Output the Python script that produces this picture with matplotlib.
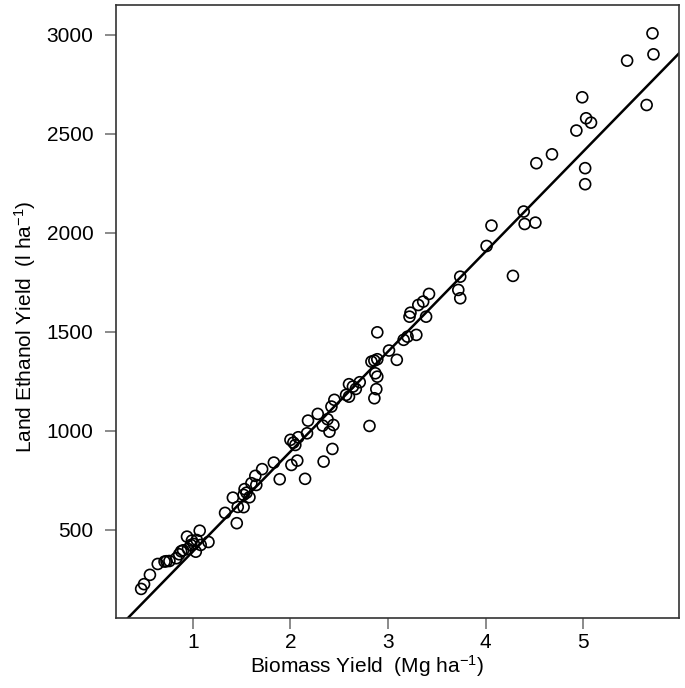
import matplotlib
matplotlib.use("Agg")
import matplotlib.pyplot as plt

plt.rcParams['font.family'] = ['Liberation Sans', 'DejaVu Sans']
plt.rcParams['mathtext.fontset'] = 'custom'
plt.rcParams['mathtext.rm'] = 'Liberation Sans'
plt.rcParams['mathtext.it'] = 'Liberation Sans:italic'

biomass = [0.47, 0.50, 0.56, 0.64, 0.71, 0.73, 0.76, 0.83, 0.86, 0.88, 0.90, 0.94,
           0.95, 0.98, 1.01, 1.03, 0.99, 1.04, 1.07, 1.16, 1.08,
           1.33, 1.41, 1.45, 1.46, 1.52, 1.53, 1.52, 1.55, 1.58, 1.60, 1.64, 1.65,
           1.71, 1.83, 1.89, 2.01, 2.07, 2.00, 2.03, 2.05, 2.08, 2.17, 2.15, 2.18,
           2.28, 2.33, 2.34, 2.43, 2.38, 2.40, 2.44, 2.42, 2.45, 2.57, 2.60, 2.60,
           2.64, 2.67, 2.71, 2.81, 2.83, 2.86, 2.89, 2.87, 2.89, 2.88, 2.86, 3.01,
           3.09, 2.89, 3.16, 3.20, 3.29, 3.22, 3.23, 3.31, 3.36, 3.42, 3.39, 3.72,
           3.74, 3.74, 4.28, 4.01, 4.06, 4.39, 4.40, 4.51, 4.52, 4.68, 4.93, 4.99,
           5.03, 5.08, 5.02, 5.02, 5.45, 5.65, 5.71, 5.72]
ethanol = [202, 226, 273, 328, 340, 342, 343, 357, 377, 392, 397, 466,
           404, 424, 429, 390, 446, 449, 496, 439, 424,
           586, 663, 534, 616, 615, 706, 677, 688, 665, 736, 773, 727,
           807, 840, 756, 828, 850, 955, 941, 929, 968, 988, 758, 1052,
           1086, 1027, 845, 909, 1059, 996, 1030, 1123, 1157, 1182, 1173, 1236,
           1224, 1212, 1246, 1025, 1350, 1355, 1362, 1291, 1274, 1211, 1165, 1406,
           1359, 1498, 1460, 1476, 1485, 1577, 1597, 1636, 1653, 1692, 1577, 1712,
           1670, 1779, 1783, 1934, 2037, 2108, 2045, 2052, 2352, 2397, 2517, 2685,
           2579, 2557, 2327, 2246, 2870, 2646, 3008, 2902]

fit_intercept = -114.0
fit_slope = 505.0

x_ticks = [1, 2, 3, 4, 5]
y_ticks = [500, 1000, 1500, 2000, 2500, 3000]

fig = plt.figure(figsize=(6.85, 6.88), dpi=100)
ax = fig.add_axes([0.169, 0.102, 0.822, 0.891])

ax.scatter(biomass, ethanol, s=62, facecolors='none', edgecolors='black',
           linewidths=1.2, zorder=3)
ax.axline((0, fit_intercept), slope=fit_slope, color='black', lw=1.8, zorder=2)

ax.set_xlim(0.21, 5.98)
ax.set_ylim(56, 3152)
ax.set_xticks(x_ticks)
ax.set_yticks(y_ticks)
ax.tick_params(axis='both', direction='out', length=8, width=1.2,
               color='#777777', labelsize=15)
ax.tick_params(axis='y', pad=8)
ax.tick_params(axis='x', pad=3)
for s in ax.spines.values():
    s.set_color('#333333')
    s.set_linewidth(1.2)

ax.set_xlabel('Biomass Yield  (Mg ha$^{-1}$)', fontsize=15, labelpad=1)
ax.set_ylabel('Land Ethanol Yield  (l ha$^{-1}$)', fontsize=15, labelpad=6)
ax.xaxis.label.set_x(0.446)
ax.yaxis.label.set_y(0.475)

fig.savefig('out.png', dpi=100)
